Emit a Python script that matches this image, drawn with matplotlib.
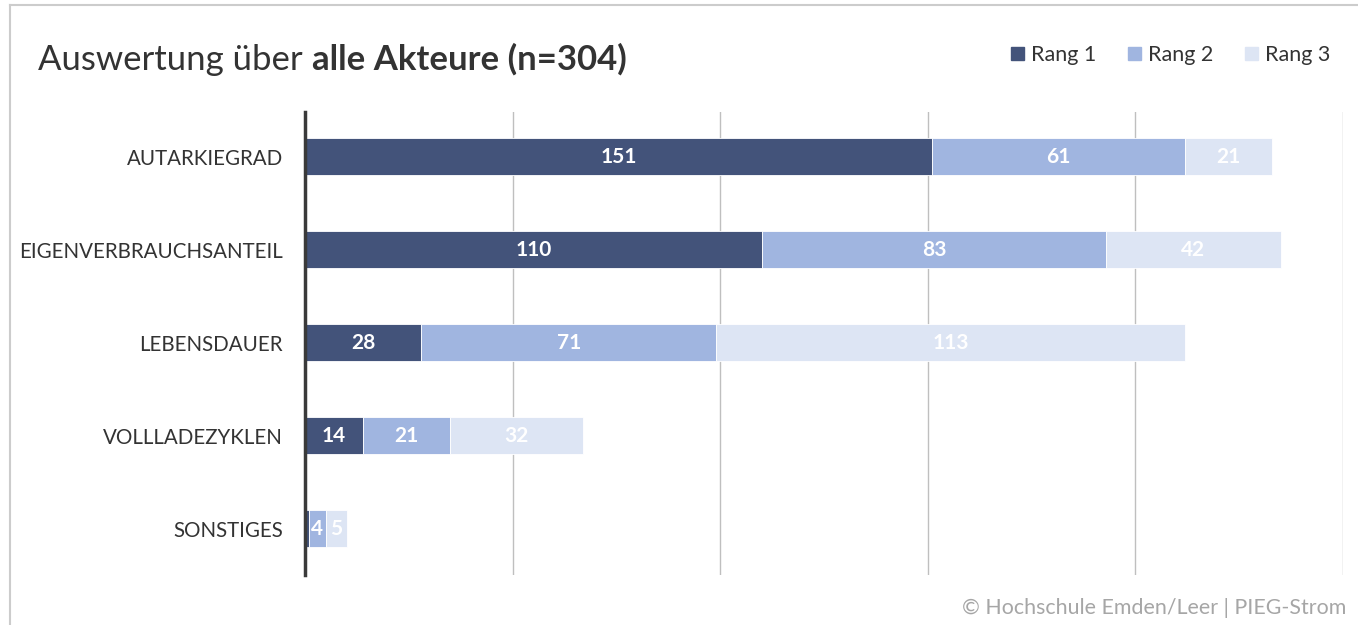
"""Stacked horizontal bar chart: ranking of criteria across all actors."""
import numpy as np
import matplotlib
matplotlib.use("Agg")
import matplotlib.pyplot as plt
from matplotlib.lines import Line2D

categories = ["AUTARKIEGRAD", "EIGENVERBRAUCHSANTEIL", "LEBENSDAUER",
              "VOLLLADEZYKLEN", "SONSTIGES"]
rang1 = [151, 110, 28, 14, 1]
rang2 = [61, 83, 71, 21, 4]
rang3 = [21, 42, 113, 32, 5]
series_names = ["Rang 1", "Rang 2", "Rang 3"]
x_ticks = [0, 50, 100, 150, 200, 250]

C1 = "#43537a"
C2 = "#a0b5e0"
C3 = "#dde5f4"
FONT = "Lato"

plt.rcParams.update({"font.family": [FONT, "DejaVu Sans"]})

fig = plt.figure(figsize=(13.58, 6.25), dpi=100)
ax = fig.add_axes([305 / 1358, 50 / 625, 1038 / 1358, 463 / 625])

y = np.arange(len(categories))
left = np.zeros(len(categories))
for vals, color in ((rang1, C1), (rang2, C2), (rang3, C3)):
    vals = np.array(vals, dtype=float)
    bars = ax.barh(y, vals, left=left, height=0.39, color=color,
                   edgecolor="white", linewidth=0.6, zorder=3)
    for b, v in zip(bars, vals):
        if v >= 3:
            ax.text(b.get_x() + b.get_width() / 2, b.get_y() + b.get_height() / 2,
                    f"{int(v)}", ha="center", va="center", color="white",
                    fontsize=15, fontweight="bold", zorder=4)
    left += vals

ax.set_xlim(0, 250)
ax.set_ylim(4.5, -0.48)
ax.set_xticks(x_ticks)
ax.set_xticklabels([])
ax.tick_params(axis="x", length=0)
ax.tick_params(axis="y", length=0, pad=16)
ax.set_yticks(y)
ax.set_yticklabels(categories, fontsize=14.8, color="#333333")
ax.grid(axis="x", color="#bfbfbf", lw=1, zorder=0)
for s in ("top", "right", "bottom"):
    ax.spines[s].set_visible(False)
ax.spines["left"].set_color("#3a3a3a")
ax.spines["left"].set_linewidth(2.5)
ax.spines["left"].set_zorder(5)

# outer frame (cut at the right and bottom edges)
fig.add_artist(Line2D([10 / 1358, 1.0], [1 - 5 / 625, 1 - 5 / 625],
                      transform=fig.transFigure, color="#cccccc", lw=1.5))
fig.add_artist(Line2D([10 / 1358, 10 / 1358], [0, 1 - 5 / 625],
                      transform=fig.transFigure, color="#cccccc", lw=1.5))

# title: regular + bold part
t1 = fig.text(38 / 1358, 1 - 70 / 625, "Auswertung über ", fontsize=25,
              color="#333333", va="baseline")
fig.canvas.draw()
bb = t1.get_window_extent()
fig.text(bb.x1 / fig.bbox.width, 1 - 70 / 625, "alle Akteure (n=304)",
         fontsize=25, fontweight="bold", color="#333333", va="baseline")

# legend
handles = [plt.Rectangle((0, 0), 1, 1, color=c) for c in (C1, C2, C3)]
fig.legend(handles, series_names, loc="center right", ncol=3, frameon=False,
           bbox_to_anchor=(1350 / 1358, 1 - 55 / 625), fontsize=15.5,
           handlelength=0.6, handleheight=0.6, handletextpad=0.35,
           columnspacing=1.45, labelcolor="#333333")

fig.text(962 / 1358, 1 - 608 / 625, "© Hochschule Emden/Leer | PIEG-Strom",
         fontsize=15.4, color="#a6a6a6", va="center")

fig.savefig("out.png", dpi=100)
